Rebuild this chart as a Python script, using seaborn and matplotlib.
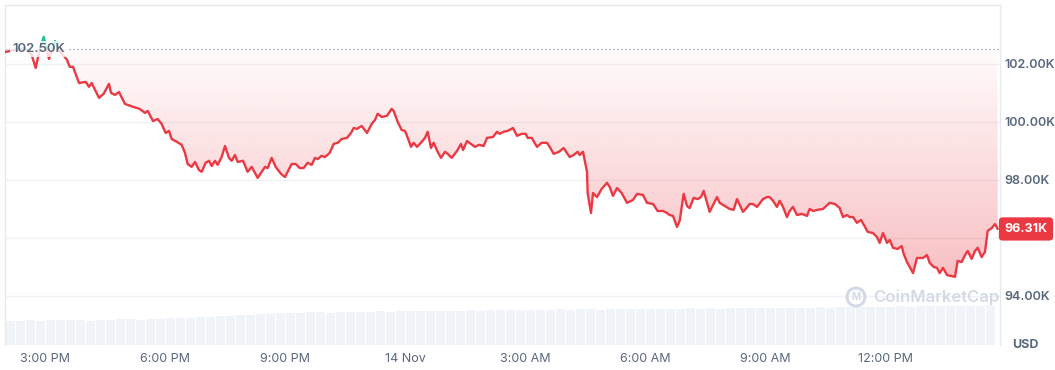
import numpy as np
import matplotlib
matplotlib.use("Agg")
import matplotlib.pyplot as plt
import seaborn as sns
from matplotlib.patches import Polygon, Rectangle, Circle

# ---------------- data ----------------
# minutes since 13 Nov 14:00
minutes = [0, 15, 30, 40, 46, 52, 58, 66, 75, 82, 93, 97, 102, 111, 121, 126, 130, 141, 148, 156,
           159, 165, 171, 180, 192, 202, 210, 214, 222, 229, 235, 241, 246, 250, 258, 265, 270, 274, 280, 285,
           291, 295, 301, 306, 310, 315, 319, 325, 330, 336, 340, 345, 349, 357, 364, 370, 379, 390, 394, 400,
           406, 414, 420, 424, 430, 436, 442, 448, 454, 460, 465, 469, 475, 480, 487, 493, 499, 505, 513, 519,
           523, 528, 535, 543, 550, 555, 559, 565, 573, 580, 583, 589, 595, 600, 603, 609, 613, 618, 625, 630,
           634, 639, 643, 649, 654, 660, 664, 670, 678, 684, 687, 693, 699, 705, 711, 718, 723, 732, 738, 742,
           748, 754, 762, 768, 775, 781, 784, 790, 798, 805, 813, 817, 823, 831, 838, 847, 853, 859, 862, 867,
           873, 874, 879, 882, 888, 895, 903, 907, 912, 918, 925, 933, 942, 948, 957, 963, 972, 979, 987, 993,
           997, 1002, 1008, 1012, 1018, 1023, 1027, 1033, 1039, 1044, 1048, 1057, 1068, 1072, 1080, 1087, 1093, 1098, 1107, 1111,
           1117, 1122, 1128, 1137, 1143, 1147, 1152, 1158, 1162, 1167, 1173, 1177, 1182, 1188, 1195, 1203, 1207, 1212, 1219, 1227,
           1237, 1245, 1252, 1257, 1263, 1267, 1272, 1278, 1284, 1290, 1294, 1302, 1308, 1312, 1317, 1323, 1327, 1332, 1339, 1345,
           1348, 1353, 1362, 1368, 1377, 1383, 1387, 1393, 1398, 1402, 1407, 1413, 1419, 1425, 1429, 1435, 1440, 1444, 1450, 1455,
           1459, 1465, 1470, 1474, 1480, 1485, 1489]
price_k = [102.41, 102.48, 102.55, 102.31, 101.86, 102.48, 102.93, 102.17, 102.79, 102.45, 102.14, 101.90, 101.90, 101.34, 101.38, 101.21, 101.34, 100.83, 100.97, 101.31,
           101.00, 100.93, 101.03, 100.62, 100.52, 100.45, 100.31, 100.38, 100.03, 100.10, 99.93, 99.62, 99.69, 99.41, 99.31, 99.21, 98.93, 98.55, 98.45, 98.62,
           98.34, 98.28, 98.59, 98.66, 98.48, 98.66, 98.52, 98.79, 99.17, 98.76, 98.66, 98.86, 98.62, 98.66, 98.28, 98.45, 98.07, 98.45, 98.41, 98.76,
           98.45, 98.21, 98.10, 98.28, 98.55, 98.55, 98.41, 98.41, 98.59, 98.52, 98.76, 98.72, 98.83, 98.79, 98.93, 99.24, 99.28, 99.41, 99.45, 99.62,
           99.79, 99.76, 99.86, 99.62, 99.93, 100.07, 100.28, 100.17, 100.21, 100.45, 100.38, 100.00, 99.72, 99.69, 99.52, 99.14, 99.28, 99.14, 99.31, 99.45,
           99.66, 99.10, 99.28, 98.97, 98.76, 98.97, 98.90, 98.76, 99.00, 99.24, 99.03, 99.34, 99.24, 99.14, 99.21, 99.17, 99.45, 99.48, 99.66, 99.59,
           99.66, 99.69, 99.79, 99.52, 99.59, 99.59, 99.45, 99.45, 99.14, 99.28, 99.28, 99.14, 98.90, 98.97, 99.10, 98.79, 98.86, 98.97, 98.86, 98.97,
           98.28, 97.55, 96.86, 97.55, 97.41, 97.69, 97.90, 97.76, 97.45, 97.72, 97.55, 97.21, 97.31, 97.52, 97.48, 97.21, 97.17, 96.93, 96.93, 96.86,
           96.79, 96.76, 96.38, 96.59, 97.52, 97.10, 97.03, 97.38, 97.34, 97.41, 97.62, 96.90, 97.41, 97.21, 97.10, 97.00, 96.97, 97.34, 96.90, 97.00,
           97.17, 97.17, 97.07, 97.34, 97.41, 97.41, 97.28, 97.07, 97.28, 97.07, 96.72, 96.93, 97.07, 96.79, 96.83, 96.76, 97.00, 96.93, 96.97, 97.00,
           97.21, 97.17, 97.03, 96.72, 96.79, 96.72, 96.72, 96.52, 96.62, 96.38, 96.21, 96.17, 96.03, 95.83, 96.17, 95.83, 95.93, 95.66, 95.62, 95.72,
           95.45, 95.17, 94.79, 95.31, 95.31, 95.41, 95.14, 95.00, 94.97, 94.79, 94.97, 94.72, 94.69, 94.66, 95.21, 95.17, 95.41, 95.55, 95.28, 95.55,
           95.66, 95.34, 95.52, 96.24, 96.34, 96.48, 96.31]

# 15-minute volume bins (billion USD)
volume_bin_start = list(range(0, 1485, 15))
volume_b = [2.40, 2.45, 2.50, 2.45, 2.50, 2.55, 2.50, 2.50, 2.45, 2.50,
            2.55, 2.60, 2.60, 2.55, 2.60, 2.65, 2.70, 2.70, 2.75, 2.80,
            2.85, 2.90, 2.95, 3.00, 3.05, 3.10, 3.15, 3.20, 3.20, 3.25,
            3.30, 3.30, 3.25, 3.30, 3.35, 3.30, 3.35, 3.40, 3.35, 3.40,
            3.40, 3.45, 3.40, 3.45, 3.45, 3.45, 3.50, 3.45, 3.50, 3.50,
            3.50, 3.55, 3.50, 3.55, 3.55, 3.60, 3.55, 3.60, 3.60, 3.55,
            3.60, 3.65, 3.60, 3.65, 3.65, 3.65, 3.60, 3.65, 3.70, 3.65,
            3.70, 3.65, 3.70, 3.70, 3.75, 3.70, 3.75, 3.75, 3.70, 3.75,
            3.75, 3.80, 3.75, 3.80, 3.80, 3.85, 3.80, 3.85, 3.85, 3.90,
            3.85, 3.90, 3.90, 3.95, 3.90, 3.95, 3.90, 3.95, 4.00]

open_price = 102.50
last_price = 96.31
x_tick_minutes = [60, 240, 420, 600, 780, 960, 1140, 1320]
x_tick_labels = ["3:00 PM", "6:00 PM", "9:00 PM", "14 Nov", "3:00 AM", "6:00 AM", "9:00 AM", "12:00 PM"]
y_ticks = [94, 96, 98, 100, 102]
y_tick_labels = ["94.00K", "", "98.00K", "100.00K", "102.00K"]

# ---------------- style ----------------
sns.set_theme(style="white")
plt.rcParams["font.family"] = ["Inter", "DejaVu Sans"]
RED = "#ea3943"
GREEN = "#16c784"
TXT = "#58667e"
GRID = "#eff2f5"

W, H = 1055, 370
fig = plt.figure(figsize=(W / 100, H / 100), dpi=100)
rect = [5 / W, 25 / H, 995 / W, 340 / H]
ax = fig.add_axes(rect)
ax_v = ax.twinx()
ax_v.set_zorder(ax.get_zorder() - 1)
ax.patch.set_visible(False)

XMIN, XMAX = 0, 1492.5
YMIN, YMAX = 92.31, 104.03

# volume bars
ax_v.bar(np.array(volume_bin_start) + 7.5, volume_b, width=13.5, color="#f0f3f7", linewidth=0)
ax_v.set_ylim(0, 34)
ax_v.set_yticks([])
for s in ax_v.spines.values():
    s.set_visible(False)

# grid lines
for yv in y_ticks:
    ax.axhline(yv, color=GRID, lw=1.0, zorder=0.5)

t = np.array(minutes, dtype=float)
p = np.array(price_k)

# gradient fill below the opening price
low = np.minimum(p, open_price)
verts = list(zip(t, low)) + [(t[-1], open_price), (t[0], open_price)]
poly_r = Polygon(verts, closed=True, facecolor="none", edgecolor="none")
ax.add_patch(poly_r)
yy = np.linspace(YMIN, open_price, 256)
alpha = np.clip(0.02 + 0.30 * (open_price - yy) / (open_price - 94.66), 0, 0.36)
img = np.zeros((256, 1, 4))
img[:, 0, :3] = matplotlib.colors.to_rgb(RED)
img[:, 0, 3] = alpha
im = ax.imshow(img, extent=[XMIN, XMAX, YMIN, open_price], origin="lower",
               aspect="auto", zorder=1, interpolation="bilinear")
im.set_clip_path(poly_r)

# gradient fill above the opening price
high = np.maximum(p, open_price)
verts_g = list(zip(t, high)) + [(t[-1], open_price), (t[0], open_price)]
poly_g = Polygon(verts_g, closed=True, facecolor="none", edgecolor="none")
ax.add_patch(poly_g)
yg = np.linspace(open_price, 103.2, 64)
img_g = np.zeros((64, 1, 4))
img_g[:, 0, :3] = matplotlib.colors.to_rgb(GREEN)
img_g[:, 0, 3] = 0.03 + 0.15 * (yg - open_price) / 0.5
im_g = ax.imshow(img_g, extent=[XMIN, XMAX, open_price, 103.2], origin="lower",
                 aspect="auto", zorder=1, interpolation="bilinear")
im_g.set_clip_path(poly_g)

# opening price dotted line
ax.axhline(open_price, color="#8f99ab", lw=0.9, ls=(0, (1, 2.2)), zorder=1.5)

# price line: red below open, green above
sns.lineplot(x=t, y=p, ax=ax, color=RED, lw=1.7, estimator=None, sort=False, zorder=3)
red_line = ax.lines[-1]
clip_r = Rectangle((XMIN, YMIN), XMAX - XMIN, open_price - YMIN, transform=ax.transData)
red_line.set_clip_path(clip_r)
sns.lineplot(x=t, y=p, ax=ax, color=GREEN, lw=1.7, estimator=None, sort=False, zorder=3)
green_line = ax.lines[-1]
clip_g = Rectangle((XMIN, open_price), XMAX - XMIN, YMAX - open_price, transform=ax.transData)
green_line.set_clip_path(clip_g)

ax.set_xlim(XMIN, XMAX)
ax.set_ylim(YMIN, YMAX)

# opening price label
ax.text(10.5, open_price, "102.50K", ha="left", va="center", fontsize=9.5, color=TXT,
        fontweight="semibold", zorder=4,
        bbox=dict(boxstyle="square,pad=0.15", facecolor="white", edgecolor="none", alpha=0.8))

# axes ticks
ax.set_xticks(x_tick_minutes)
ax.set_xticklabels(x_tick_labels)
ax.tick_params(axis="x", length=0, pad=6, labelsize=9, labelcolor=TXT)
ax.yaxis.tick_right()
ax.set_yticks(y_ticks)
ax.set_yticklabels(y_tick_labels)
ax.tick_params(axis="y", length=0, pad=3, labelsize=9, labelcolor=TXT)
for lab in ax.get_yticklabels():
    lab.set_fontweight("semibold")
ax.set_xlabel("")
ax.set_ylabel("")
for name, s in ax.spines.items():
    s.set_color("#e6e9ee")
    s.set_linewidth(1.0)
ax.spines["bottom"].set_visible(False)

# last price tag
ax.text(1.0045, last_price, f"{last_price:.2f}K", transform=ax.get_yaxis_transform(),
        ha="left", va="center", fontsize=9, color="white", fontweight="bold", zorder=6,
        clip_on=False,
        bbox=dict(boxstyle="round,pad=0.45,rounding_size=0.3", facecolor=RED, edgecolor="none"))

fig.text(1025 / W, 1 - 345 / H, "USD", ha="center", va="center", fontsize=9,
         color=TXT, fontweight="bold")

# watermark
fig.add_artist(Circle((856, H - 297), 9, transform=None, fill=False,
                      edgecolor="#d3d9e4", lw=2.2))
fig.text(856 / W, 1 - 297 / H, "M", ha="center", va="center", fontsize=7,
         color="#d3d9e4", fontweight="bold")
fig.text(873 / W, 1 - 297 / H, "CoinMarketCap", ha="left", va="center", fontsize=12,
         color="#d3d9e4", fontweight="semibold")

fig.savefig("out.png", dpi=100)
